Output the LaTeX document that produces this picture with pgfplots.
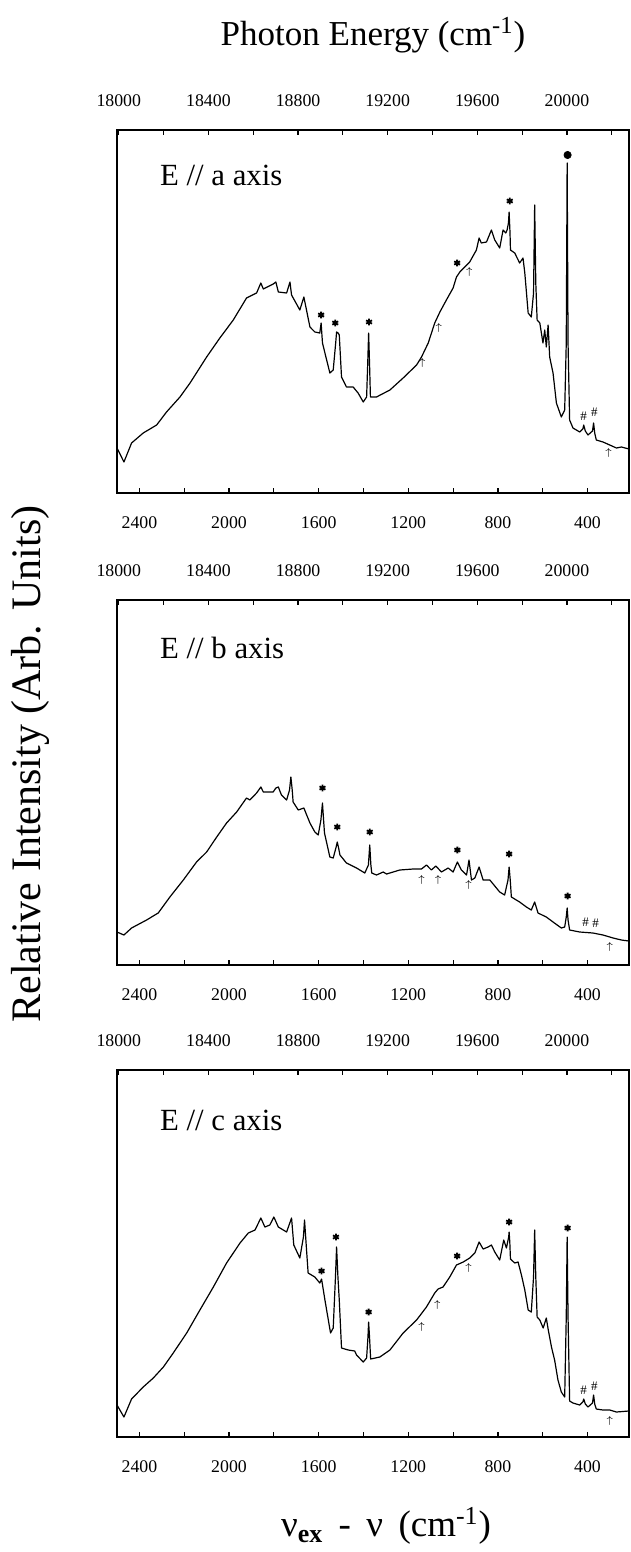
\documentclass[border=0pt]{standalone}
\usepackage{fontspec}
\setmainfont{Liberation Serif}
\usepackage{pgfplots}
\pgfplotsset{compat=1.18}

% 1 px of the reference = 0.5pt
\pgfplotsset{
  panel/.style={scale only axis, width=256pt, anchor=north west,
    xmin=215, xmax=2500, x dir=reverse, ymin=0,
    xtick={400,800,...,2400}, minor xtick={600,1000,...,2200},
    xtick pos=lower, ytick=\empty, scaled x ticks=false,
    axis line style={line width=0.9pt},
    every tick/.style={black, line width=0.6pt},
    major tick length=2.6pt, minor tick length=2.6pt,
    xticklabel style={font=\fontsize{8.9}{10}\selectfont, yshift=-8.3pt},
    /pgf/number format/assume math mode=true,
    /pgf/number format/1000 sep={}},
  toppanel/.style={scale only axis, width=256pt, anchor=north west,
    xmin=17992, xmax=20277, axis x line*=top, hide y axis,
    scaled x ticks=false,
    xtick={18000,18400,...,20000}, minor xtick={18200,18600,...,20200},
    axis line style={line width=0.9pt},
    every tick/.style={black, line width=0.6pt},
    major tick length=2.6pt, minor tick length=2.6pt,
    xticklabel style={font=\fontsize{8.9}{10}\selectfont, yshift=8.3pt},
    /pgf/number format/assume math mode=true,
    /pgf/number format/1000 sep={}},
  spec/.style={black, line width=0.6pt, line join=round},
  star/.style={only marks, mark=asterisk, mark size=1.7pt, mark options={line width=0.9pt}},
  hashm/.style={only marks, mark=text, text mark={\fontsize{6.5}{7}\selectfont\#}},
  arrm/.style={only marks, mark=text, text mark={\fontsize{5.5}{6}\selectfont$\uparrow$}},
}

\begin{document}
\begin{tikzpicture}
\useasboundingbox (0,0) rectangle (315.5pt,-776pt);

% ---------- panel a ----------
\begin{axis}[panel, at={(58.5pt,-65pt)}, height=181.5pt, ymax=363]
\addplot[spec] coordinates {
(2500,45) (2469,31) (2435,50) (2383,60) (2323,68) (2279,81) (2219,96) (2174,110)
(2100,136) (2041,155) (1981,173) (1922,195) (1877,200) (1858,210) (1847,204)
(1803,209) (1791,211) (1780,201) (1743,200) (1728,211) (1721,198) (1684,183)
(1666,196) (1639,166) (1617,161) (1595,160) (1589,170) (1583,150) (1550,120)
(1535,123) (1524,150) (1520,161) (1513,160) (1508,158) (1498,116) (1476,106)
(1446,106) (1424,100) (1401,91) (1386,96) (1381,130) (1377,160) (1373,130)
(1369,96) (1342,96) (1282,103) (1223,115) (1163,128) (1141,136) (1111,150)
(1082,170) (1059,181) (1030,193) (1000,205) (985,216) (970,221) (926,231)
(896,243) (884,255) (874,250) (851,251) (829,263) (814,253) (792,245) (777,263)
(765,260) (759,263) (753,270) (750,281) (746,260) (744,243) (725,240) (703,230)
(688,235) (680,220) (665,180) (651,176) (641,200) (636,288) (631,210) (625,173)
(613,170) (599,150) (591,163) (584,146) (576,168) (569,136) (554,120) (539,90)
(517,76) (502,83) (495,150) (491,330) (487,150) (480,73) (465,65) (435,61)
(421,64) (417,68) (410,62) (398,58) (378,62) (373,70) (368,60) (361,53) (331,51)
(301,48) (271,45) (249,46) (215,44)};
\addplot[star] coordinates {(1589,178) (1526,170) (1375,171) (982,230) (747,292)};
\addplot[only marks, mark=*, mark size=1.8pt] coordinates {(489,338)};
\addplot[hashm] coordinates {(417,77) (370,81)};
\addplot[arrm] coordinates {(1138,130) (1064,165) (928,221) (306,40)};
\end{axis}
\begin{axis}[toppanel, at={(58.5pt,-65pt)}, height=181.5pt, ymin=0, ymax=363]
\end{axis}

% ---------- panel b ----------
\begin{axis}[panel, at={(58.5pt,-300pt)}, height=182.5pt, ymax=365]
\addplot[spec] coordinates {
(2500,33) (2469,30) (2435,37) (2368,45) (2316,52) (2264,68) (2204,85) (2145,103)
(2100,113) (2055,128) (2011,142) (1966,153) (1922,167) (1907,165) (1877,172)
(1858,178) (1847,173) (1803,173) (1791,177) (1780,178) (1766,170) (1743,165)
(1730,175) (1724,188) (1718,175) (1714,163) (1691,155) (1666,157) (1639,142)
(1617,133) (1602,130) (1590,145) (1583,162) (1578,145) (1574,132) (1550,108)
(1535,107) (1522,118) (1517,123) (1511,117) (1505,110) (1476,102) (1431,97)
(1394,92) (1378,100) (1372,120) (1367,100) (1363,92) (1342,90) (1312,93)
(1297,91) (1238,95) (1178,96) (1141,96) (1119,100) (1097,95) (1077,99)
(1052,93) (1022,97) (1000,93) (981,103) (963,95) (940,90) (929,105) (918,85)
(903,87) (884,98) (866,85) (836,85) (792,73) (770,70) (755,85) (750,98)
(745,85) (740,68) (703,63) (673,58) (651,55) (636,63) (621,52) (584,48)
(554,43) (517,37) (502,38) (495,48) (491,57) (487,45) (480,35) (435,33)
(376,32) (331,30) (286,27) (249,25) (216,24)};
\addplot[star] coordinates {(1583,177) (1517,138) (1372,133) (981,115) (750,111) (489,69)};
\addplot[hashm] coordinates {(409,43) (364,42)};
\addplot[arrm] coordinates {(1141,85) (1067,85) (931,80) (301,18)};
\end{axis}
\begin{axis}[toppanel, at={(58.5pt,-300pt)}, height=182.5pt, ymin=0, ymax=365]
\end{axis}

% ---------- panel c ----------
\begin{axis}[panel, at={(58.5pt,-535pt)}, height=183.5pt, ymax=367]
\addplot[spec] coordinates {
(2500,32) (2469,20) (2435,38) (2383,50) (2338,59) (2293,70) (2249,84) (2189,104)
(2130,127) (2070,150) (2011,174) (1951,194) (1914,204) (1884,207) (1858,219)
(1840,210) (1818,212) (1800,220) (1780,210) (1743,205) (1721,219) (1711,192)
(1684,179) (1668,200) (1663,217) (1655,190) (1647,164) (1617,160) (1595,154)
(1587,158) (1572,137) (1547,104) (1535,109) (1525,160) (1520,190) (1514,160)
(1508,137) (1498,89) (1468,87) (1439,86) (1431,82) (1401,75) (1386,79)
(1380,100) (1377,115) (1373,100) (1368,78) (1327,80) (1282,87) (1223,104)
(1163,117) (1119,130) (1082,144) (1067,148) (1045,150) (1015,160) (985,172)
(955,175) (926,179) (903,184) (884,195) (866,188) (844,190) (829,192) (814,185)
(792,177) (774,197) (762,189) (752,200) (750,205) (747,195) (744,178) (725,174)
(710,175) (695,162) (680,147) (665,127) (651,125) (641,160) (636,207) (631,160)
(625,120) (613,117) (598,109) (584,119) (576,108) (561,90) (547,77) (532,57)
(517,45) (502,40) (495,120) (491,200) (487,120) (480,36) (465,34) (435,32)
(421,35) (417,38) (410,33) (398,30) (378,34) (373,42) (368,33) (361,28) (331,27)
(301,27) (271,25) (216,26)};
\addplot[star] coordinates {(1587,166) (1523,200) (1377,125) (982,181) (750,215) (489,209)};
\addplot[hashm] coordinates {(417,47) (370,51)};
\addplot[arrm] coordinates {(1141,110) (1071,132) (931,169) (301,16)};
\end{axis}
\begin{axis}[toppanel, at={(58.5pt,-535pt)}, height=183.5pt, ymin=0, ymax=367]
\end{axis}

% ---------- labels ----------
\node[font=\fontsize{17.5}{20}\selectfont] at (186.5pt,-17.5pt) {Photon Energy (cm\textsuperscript{-1})};
\node[rotate=90, font=\fontsize{21}{24}\selectfont] at (15pt,-382pt) {Relative Intensity (Arb. Units)};
\node[font=\fontsize{18.5}{20}\selectfont] at (193pt,-763pt) {ν\textsubscript{\textbf{ex}} \,-\, ν\, (cm\textsuperscript{-1})};
\node[anchor=west, font=\fontsize{15.4}{18}\selectfont] at (76.5pt,-87.5pt) {E // a axis};
\node[anchor=west, font=\fontsize{15.4}{18}\selectfont] at (76.5pt,-324pt) {E // b axis};
\node[anchor=west, font=\fontsize{15.4}{18}\selectfont] at (76.5pt,-560pt) {E // c axis};
\end{tikzpicture}
\end{document}
